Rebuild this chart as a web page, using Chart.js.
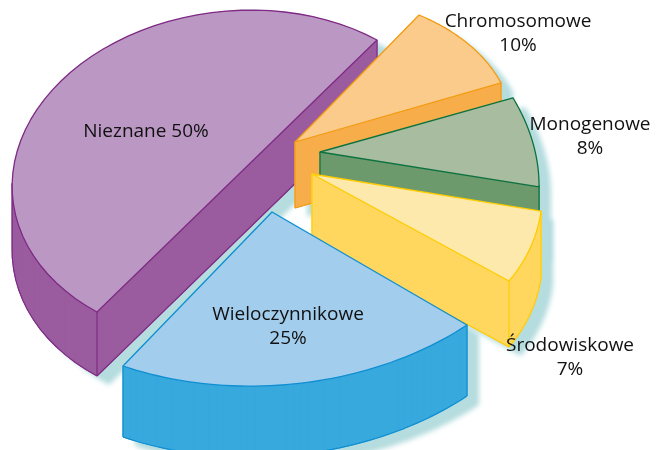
<!DOCTYPE html>
<html>
<head>
<meta charset="utf-8">
<title>Przyczyny</title>
<style>
  html, body { margin: 0; padding: 0; background: #fff; }
  #pie { display: block; }
</style>
<script src="https://cdn.jsdelivr.net/npm/chart.js@4"></script>
</head>
<body>
<canvas id="pie" width="662" height="450"></canvas>
<script>
// data
const categories = ['Nieznane', 'Chromosomowe', 'Monogenowe', 'Środowiskowe', 'Wieloczynnikowe'];
const shares = [50, 10, 8, 7, 25];

// look of each slice
const topColors = ['#bb97c3', '#fbcb8b', '#a8bc9f', '#fee9ac', '#a2cded'];
const sideColors = ['#9a5c9e', '#f7ae4a', '#6c9a6c', '#ffd75f', '#37a9dd'];
const edgeColors = ['#7f2b86', '#f39c12', '#0e7240', '#ffcc00', '#0f8fd2'];
const depths = [64, 66, 66, 66, 71];
const bulges = [1, 1, 1, 1, 0.68];

// fake 3D: every slice gets its own tilt, p = where 3 o'clock lands, q = where 6 o'clock lands
const frames = [
  { tip: [237, 176], p: [-176, -95], q: [140, -136] },
  { tip: [295, 142], p: [-179.8, -74.3], q: [124, -127] },
  { tip: [320, 152], p: [-197.2, -106.5], q: [95.3, -144.2] },
  { tip: [312, 174], p: [-197, -107], q: [119.3, -140.4] },
  { tip: [272, 212], p: [-195, -113], q: [149, -154] }
];

// label placement: centre x, first baseline y, one or two lines
const labelSpots = [
  { x: 146, y: 137, oneLine: true },
  { x: 518, y: 27 },
  { x: 590, y: 130 },
  { x: 570, y: 351 },
  { x: 288, y: 320 }
];
const labelLineGap = 23.5;

function rimPoints(arc, i) {
  const f = frames[i];
  const { startAngle, endAngle } = arc.getProps(['startAngle', 'endAngle'], true);
  const at = a => [Math.cos(a) * f.p[0] + Math.sin(a) * f.q[0], Math.cos(a) * f.p[1] + Math.sin(a) * f.q[1]];
  const first = at(startAngle);
  const last = at(endAngle);
  const steps = 48;
  const pts = [];
  for (let s = 0; s <= steps; s++) {
    const t = s / steps;
    const r = at(startAngle + (endAngle - startAngle) * t);
    const cx = first[0] + (last[0] - first[0]) * t;
    const cy = first[1] + (last[1] - first[1]) * t;
    pts.push([f.tip[0] + cx + (r[0] - cx) * bulges[i], f.tip[1] + cy + (r[1] - cy) * bulges[i]]);
  }
  return pts;
}

function trace(ctx, pts, dy) {
  pts.forEach((pt, k) => {
    if (k === 0) ctx.moveTo(pt[0], pt[1] + dy);
    else ctx.lineTo(pt[0], pt[1] + dy);
  });
  ctx.closePath();
}

function outline(arc, i) {
  return [frames[i].tip].concat(rimPoints(arc, i));
}

function drawSides(ctx, pts, i) {
  const d = depths[i];
  const n = pts.length;
  const facing = k => pts[(k + 1) % n][0] < pts[k][0] - 0.001;
  ctx.fillStyle = sideColors[i];
  ctx.strokeStyle = sideColors[i];
  ctx.lineWidth = 1;
  for (let k = 0; k < n; k++) {
    if (!facing(k)) continue;
    const a = pts[k];
    const b = pts[(k + 1) % n];
    ctx.beginPath();
    ctx.moveTo(a[0], a[1]);
    ctx.lineTo(b[0], b[1]);
    ctx.lineTo(b[0], b[1] + d);
    ctx.lineTo(a[0], a[1] + d);
    ctx.closePath();
    ctx.fill();
    ctx.stroke();
  }
  // bottom rim and upright edges
  ctx.strokeStyle = edgeColors[i];
  ctx.lineWidth = 1.2;
  ctx.lineJoin = 'round';
  ctx.beginPath();
  for (let k = 0; k < n; k++) {
    const prev = pts[(k + n - 1) % n];
    const a = pts[k];
    const b = pts[(k + 1) % n];
    const before = facing((k + n - 1) % n);
    const after = facing(k);
    // a half pie has its tip in the middle of a straight side, no edge there
    const turn = Math.abs((a[0] - prev[0]) * (b[1] - a[1]) - (a[1] - prev[1]) * (b[0] - a[0]));
    const corner = (k === 0 || k === 1 || k === n - 1) && turn > 1;
    if ((corner && (before || after)) || before !== after) {
      ctx.moveTo(a[0], a[1]);
      ctx.lineTo(a[0], a[1] + d);
    }
    if (after) {
      ctx.moveTo(a[0], a[1] + d);
      ctx.lineTo(b[0], b[1] + d);
    }
  }
  ctx.stroke();
}

const pie3d = {
  id: 'pie3d',
  // soft teal shadow goes under everything
  beforeDatasetsDraw(chart) {
    const ctx = chart.ctx;
    chart.getDatasetMeta(0).data.forEach((arc, i) => {
      const pts = outline(arc, i);
      const d = depths[i];
      ctx.save();
      ctx.shadowColor = '#b5dcde';
      ctx.shadowBlur = 5;
      ctx.shadowOffsetX = 12;
      ctx.shadowOffsetY = 9;
      ctx.fillStyle = sideColors[i];
      ctx.beginPath();
      trace(ctx, pts, 0);
      trace(ctx, pts, d);
      pts.forEach((a, k) => {
        const b = pts[(k + 1) % pts.length];
        if (b[0] < a[0]) {
          ctx.moveTo(a[0], a[1] + d);
          ctx.lineTo(b[0], b[1] + d);
          ctx.lineTo(b[0], b[1]);
          ctx.lineTo(a[0], a[1]);
          ctx.closePath();
        }
      });
      ctx.fill();
      ctx.restore();
    });
    chart.getDatasetMeta(0).data.forEach((arc, i) => {
      if (arc.draw3d) return;
      const flat = arc.draw;
      arc.draw3d = true;
      arc.draw = function (c) {
        const f = frames[i];
        const { x, y, outerRadius: R } = this.getProps(['x', 'y', 'outerRadius'], true);
        const pts = outline(this, i);
        drawSides(c, pts, i);
        c.save();
        c.beginPath();
        trace(c, pts, 0);
        c.clip();
        const a = f.p[0] / R, b = f.p[1] / R, cc = f.q[0] / R, d = f.q[1] / R;
        c.transform(a, b, cc, d, f.tip[0] - a * x - cc * y, f.tip[1] - b * x - d * y);
        flat.call(this, c);
        c.restore();
        c.strokeStyle = edgeColors[i];
        c.lineWidth = 1.3;
        c.lineJoin = 'round';
        c.beginPath();
        trace(c, pts, 0);
        c.stroke();
      };
    });
  },
  afterDatasetsDraw(chart) {
    const ctx = chart.ctx;
    ctx.save();
    ctx.font = '19px "Open Sans"';
    ctx.fillStyle = '#111';
    ctx.textAlign = 'center';
    categories.forEach((name, i) => {
      const spot = labelSpots[i];
      const pct = shares[i] + '%';
      if (spot.oneLine) {
        ctx.fillText(name + ' ' + pct, spot.x, spot.y);
      } else {
        ctx.fillText(name, spot.x, spot.y);
        ctx.fillText(pct, spot.x, spot.y + labelLineGap);
      }
    });
    ctx.restore();
  }
};

new Chart(document.getElementById('pie'), {
  type: 'pie',
  data: {
    labels: categories,
    datasets: [{
      data: shares,
      backgroundColor: topColors,
      borderWidth: 0
    }]
  },
  options: {
    responsive: false,
    animation: false,
    events: [],
    plugins: {
      legend: { display: false },
      tooltip: { enabled: false }
    }
  },
  plugins: [pie3d]
});
</script>
</body>
</html>
